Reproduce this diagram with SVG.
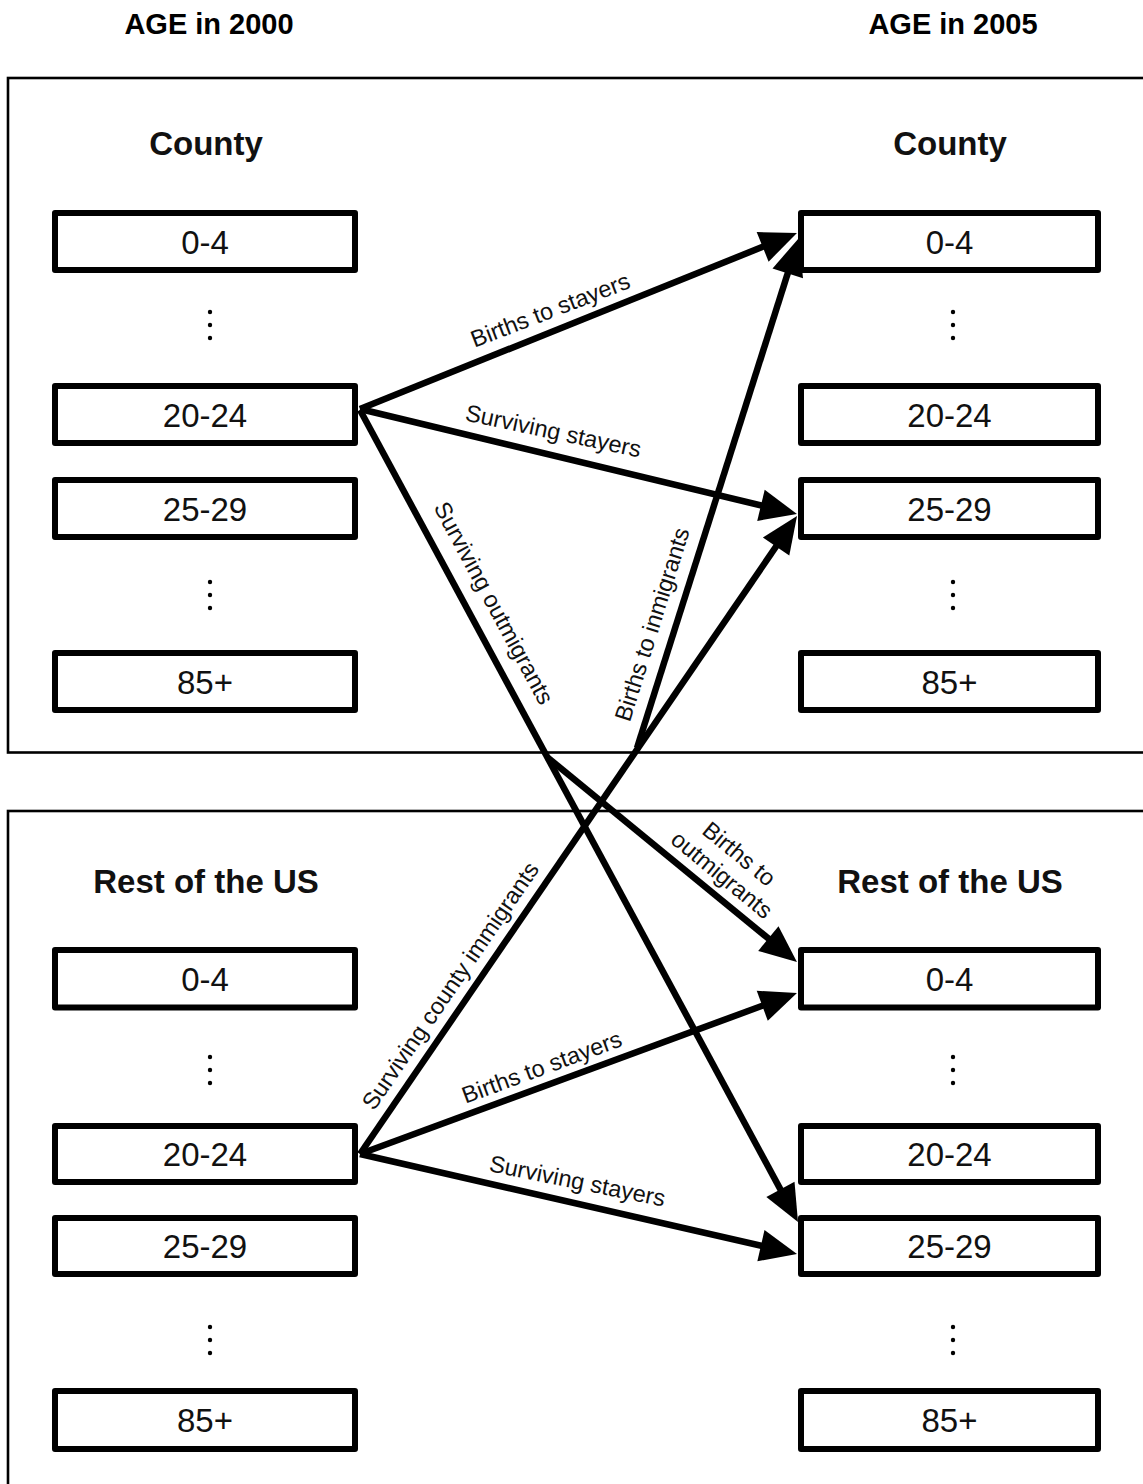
<svg xmlns="http://www.w3.org/2000/svg" width="1143" height="1484" viewBox="0 0 1143 1484">
<style>
.panel{fill:none;stroke:#000;stroke-width:2.6}
.box{fill:#fff;stroke:#000;stroke-width:6;stroke-linejoin:round}
.bt{font-family:"Liberation Sans",Arial,sans-serif;font-size:33px;text-anchor:middle;fill:#111}
.title{font-family:"Liberation Sans",Arial,sans-serif;font-weight:bold;font-size:33px;text-anchor:middle;fill:#111}
.head{font-family:"Liberation Sans",Arial,sans-serif;font-weight:bold;font-size:29px;text-anchor:middle;fill:#000}
.lbl{font-family:"Liberation Sans",Arial,sans-serif;font-size:23.5px;text-anchor:middle;fill:#111}
.con{fill:none;stroke:#000;stroke-width:6.5;marker-end:url(#ah)}
.dot{fill:#000}
</style>
<defs>
<marker id="ah" markerUnits="userSpaceOnUse" markerWidth="38" markerHeight="32" refX="17" refY="16" orient="auto" overflow="visible">
<path d="M0,0 L37,16 L0,32 z" fill="#000"/>
</marker>
</defs>
<rect width="1143" height="1484" fill="#fff"/>
<text class="head" x="209" y="34">AGE in 2000</text>
<text class="head" x="953" y="34">AGE in 2005</text>
<rect class="panel" x="8" y="78" width="1150" height="674.5"/>
<rect class="panel" x="8" y="811" width="1150" height="700"/>
<text class="title" x="206" y="155">County</text>
<text class="title" x="950" y="155">County</text>
<text class="title" x="206" y="893">Rest of the US</text>
<text class="title" x="950" y="893">Rest of the US</text>

<g id="county-2000-0-4"><rect class="box" x="55" y="213" width="300" height="57"/><text class="bt" x="205" y="253.5">0-4</text></g>
<g id="county-2000-20-24"><rect class="box" x="55" y="386" width="300" height="57"/><text class="bt" x="205" y="427">20-24</text></g>
<g id="county-2000-25-29"><rect class="box" x="55" y="480" width="300" height="57"/><text class="bt" x="205" y="521">25-29</text></g>
<g id="county-2000-85"><rect class="box" x="55" y="653" width="300" height="57"/><text class="bt" x="205" y="694">85+</text></g>
<g id="county-2005-0-4"><rect class="box" x="801" y="213" width="297" height="57"/><text class="bt" x="949.5" y="253.5">0-4</text></g>
<g id="county-2005-20-24"><rect class="box" x="801" y="386" width="297" height="57"/><text class="bt" x="949.5" y="427">20-24</text></g>
<g id="county-2005-25-29"><rect class="box" x="801" y="480" width="297" height="57"/><text class="bt" x="949.5" y="521">25-29</text></g>
<g id="county-2005-85"><rect class="box" x="801" y="653" width="297" height="57"/><text class="bt" x="949.5" y="694">85+</text></g>

<g id="us-2000-0-4"><rect class="box" x="55" y="950" width="300" height="57.5"/><text class="bt" x="205" y="991">0-4</text></g>
<g id="us-2000-20-24"><rect class="box" x="55" y="1126" width="300" height="56"/><text class="bt" x="205" y="1166">20-24</text></g>
<g id="us-2000-25-29"><rect class="box" x="55" y="1218" width="300" height="56"/><text class="bt" x="205" y="1258">25-29</text></g>
<g id="us-2000-85"><rect class="box" x="55" y="1391" width="300" height="58"/><text class="bt" x="205" y="1432">85+</text></g>
<g id="us-2005-0-4"><rect class="box" x="801" y="950" width="297" height="57.5"/><text class="bt" x="949.5" y="991">0-4</text></g>
<g id="us-2005-20-24"><rect class="box" x="801" y="1126" width="297" height="56"/><text class="bt" x="949.5" y="1166">20-24</text></g>
<g id="us-2005-25-29"><rect class="box" x="801" y="1218" width="297" height="56"/><text class="bt" x="949.5" y="1258">25-29</text></g>
<g id="us-2005-85"><rect class="box" x="801" y="1391" width="297" height="58"/><text class="bt" x="949.5" y="1432">85+</text></g>

<g id="ellipses">
<circle class="dot" cx="210" cy="312" r="2.2"/><circle class="dot" cx="210" cy="325" r="2.2"/><circle class="dot" cx="210" cy="338" r="2.2"/>
<circle class="dot" cx="210" cy="582" r="2.2"/><circle class="dot" cx="210" cy="595" r="2.2"/><circle class="dot" cx="210" cy="608" r="2.2"/>
<circle class="dot" cx="210" cy="1057" r="2.2"/><circle class="dot" cx="210" cy="1070" r="2.2"/><circle class="dot" cx="210" cy="1083" r="2.2"/>
<circle class="dot" cx="210" cy="1327" r="2.2"/><circle class="dot" cx="210" cy="1340" r="2.2"/><circle class="dot" cx="210" cy="1353" r="2.2"/>
<circle class="dot" cx="953" cy="312" r="2.2"/><circle class="dot" cx="953" cy="325" r="2.2"/><circle class="dot" cx="953" cy="338" r="2.2"/>
<circle class="dot" cx="953" cy="582" r="2.2"/><circle class="dot" cx="953" cy="595" r="2.2"/><circle class="dot" cx="953" cy="608" r="2.2"/>
<circle class="dot" cx="953" cy="1057" r="2.2"/><circle class="dot" cx="953" cy="1070" r="2.2"/><circle class="dot" cx="953" cy="1083" r="2.2"/>
<circle class="dot" cx="953" cy="1327" r="2.2"/><circle class="dot" cx="953" cy="1340" r="2.2"/><circle class="dot" cx="953" cy="1353" r="2.2"/>
</g>

<g id="connectors">
<path class="con" d="M360,409 L778.4,240.5"/>
<path class="con" d="M360,409 L777.5,509.3"/>
<path class="con" d="M360,410 L788.5,1204.4"/>
<path class="con" d="M547,757 L781.5,949.3"/>
<path class="con" d="M637,748 L792.9,257.1"/>
<path class="con" d="M360,1154 L785.7,532.5"/>
<path class="con" d="M360,1154 L778.2,999.9"/>
<path class="con" d="M360,1154 L777.5,1249.5"/>
</g>

<g id="labels">
<text class="lbl" transform="translate(551,312) rotate(-21)" y="6">Births to stayers</text>
<text class="lbl" transform="translate(553,433) rotate(12)" y="6">Surviving stayers</text>
<text class="lbl" transform="translate(492,604) rotate(61.7)" y="6">Surviving outmigrants</text>
<text class="lbl" transform="translate(729.5,865.5) rotate(39.4)"><tspan x="0" y="-7">Births to</tspan><tspan x="0" y="20">outmigrants</tspan></text>
<text class="lbl" transform="translate(654,625) rotate(-72.6)" y="6">Births to inmigrants</text>
<text class="lbl" transform="translate(452,987) rotate(-55.6)" y="6">Surviving county immigrants</text>
<text class="lbl" transform="translate(542.5,1069) rotate(-20.3)" y="6">Births to stayers</text>
<text class="lbl" transform="translate(577,1183) rotate(11.5)" y="6">Surviving stayers</text>
</g>
</svg>
